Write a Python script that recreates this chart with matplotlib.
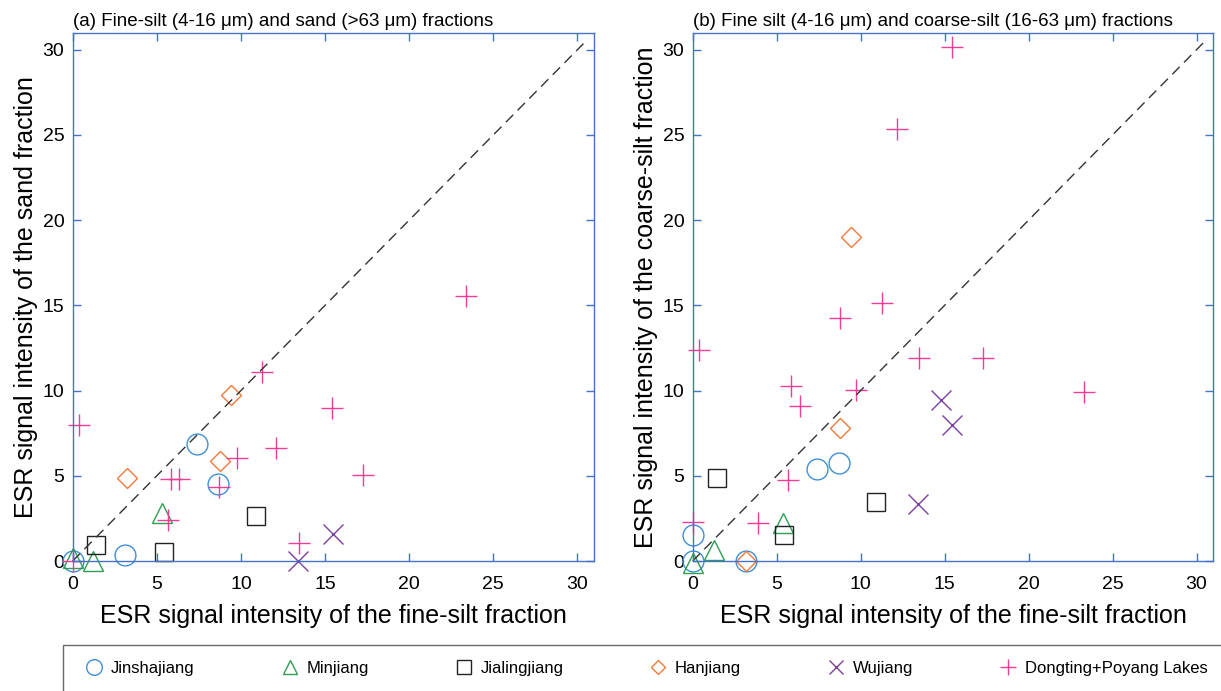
import matplotlib
matplotlib.use('Agg')
import matplotlib.pyplot as plt
from matplotlib.lines import Line2D

plt.rcParams['font.family'] = ['Liberation Sans', 'DejaVu Sans']

# ---- data: (fine-silt, sand) for panel a, (fine-silt, coarse-silt) for panel b
names = ['Jinshajiang', 'Minjiang', 'Jialingjiang', 'Hanjiang', 'Wujiang',
         'Dongting+Poyang Lakes']

# panel (a)
a_jin_x = [0.0, 3.1, 7.4, 8.65]
a_jin_y = [0.0, 0.35, 6.86, 4.52]
a_min_x = [0.0, 1.2, 5.3]
a_min_y = [0.2, 0.0, 2.83]
a_jia_x = [1.38, 5.42, 10.87]
a_jia_y = [0.92, 0.53, 2.63]
a_han_x = [3.23, 9.42, 8.75]
a_han_y = [4.9, 9.76, 5.87]
a_wu_x = [13.4, 15.46]
a_wu_y = [0.0, 1.6]
a_dp_x = [0.0, 0.39, 11.24, 15.39, 12.09, 9.74, 5.82, 6.32, 8.7, 5.65, 17.24, 13.48, 23.36]
a_dp_y = [0.0, 7.98, 11.08, 8.98, 6.62, 6.03, 4.79, 4.79, 4.32, 2.4, 5.05, 1.06, 15.57]

# panel (b)
b_jin_x = [0.0, 0.0, 3.17, 7.41, 8.69]
b_jin_y = [1.51, 0.0, 0.0, 5.38, 5.74]
b_min_x = [0.0, 1.27, 5.37]
b_min_y = [-0.1, 0.63, 2.24]
b_jia_x = [1.44, 5.44, 10.93]
b_jia_y = [4.89, 1.55, 3.48]
b_han_x = [3.17, 8.78, 9.44]
b_han_y = [0.0, 7.78, 19.0]
b_wu_x = [14.8, 15.47, 13.39]
b_wu_y = [9.47, 8.0, 3.34]
b_dp_x = [0.35, 0.0, 5.86, 6.42, 9.75, 5.68, 3.87, 13.48, 17.26, 23.28, 15.46, 12.18, 11.3, 8.8]
b_dp_y = [12.38, 2.3, 10.26, 9.12, 10.06, 4.75, 2.24, 11.89, 11.89, 9.92, 30.16, 25.32, 15.14, 14.26]

ticks = [0, 5, 10, 15, 20, 25, 30]
one_to_one = [0, 30.6]

# ---- styles
markers = ['o', '^', 's', 'D', 'x', '+']
sizes = [15, 14, 13, 10, 14, 16]
colors = ['#3f8fd8', '#2e9e52', '#222222', '#f07a3a', '#7d3fa3', '#ee3d96']
spine_col = '#4472c4'

fig = plt.figure(figsize=(12.21, 6.91), dpi=100)
ax1 = fig.add_axes([0.0595, 0.1881, 0.4272, 0.7646])
ax2 = fig.add_axes([0.5673, 0.1881, 0.4264, 0.7646])

panels = [
    (ax1, [(a_jin_x, a_jin_y), (a_min_x, a_min_y), (a_jia_x, a_jia_y),
           (a_han_x, a_han_y), (a_wu_x, a_wu_y), (a_dp_x, a_dp_y)],
     '(a) Fine-silt (4-16 μm) and sand (>63 μm) fractions',
     'ESR signal intensity of the sand fraction'),
    (ax2, [(b_jin_x, b_jin_y), (b_min_x, b_min_y), (b_jia_x, b_jia_y),
           (b_han_x, b_han_y), (b_wu_x, b_wu_y), (b_dp_x, b_dp_y)],
     '(b) Fine silt (4-16 μm) and coarse-silt (16-63 μm) fractions',
     'ESR signal intensity of the coarse-silt fraction'),
]

for ax, series, title, ylab in panels:
    for (xs, ys), m, s, c in zip(series, markers, sizes, colors):
        ax.plot(xs, ys, linestyle='none', marker=m, markersize=s,
                markerfacecolor='none', markeredgecolor=c,
                markeredgewidth=1.0, clip_on=False)
    ax.plot(one_to_one, one_to_one, color='#333333', lw=1.0,
            dashes=(7.5, 4.5), clip_on=False)
    ax.set_xlim(0, 31)
    ax.set_ylim(0, 31)
    ax.set_xticks(ticks)
    ax.set_yticks(ticks)
    for sp in ax.spines.values():
        sp.set_color(spine_col)
        sp.set_linewidth(1.0)
    ax.tick_params(direction='in', length=6, width=1.0, color=spine_col,
                   top=True, right=True, labelsize=14)
    ax.tick_params(axis='x', pad=11)
    ax.tick_params(axis='y', pad=6)
    ax.set_title(title, loc='left', fontsize=13.5, pad=5)
    ax.set_xlabel('ESR signal intensity of the fine-silt fraction',
                  fontsize=18, labelpad=8)
    ax.set_ylabel(ylab, fontsize=18, labelpad=3)

handles = [Line2D([], [], linestyle='none', marker=m, markersize=s * 0.75,
                  markerfacecolor='none', markeredgecolor=c, markeredgewidth=1.0)
           for m, s, c in zip(markers, sizes, colors)]
leg = fig.legend(handles, names, loc='upper left', ncol=6, mode='expand',
                 bbox_to_anchor=(0.052, 0.0, 0.95, 0.066), fontsize=12,
                 frameon=True, fancybox=False, handlelength=1.8,
                 handletextpad=0.1, borderpad=0.95, borderaxespad=0)
leg.get_frame().set_edgecolor('#444444')
leg.get_frame().set_linewidth(1.0)

fig.savefig('out.png', dpi=100)
